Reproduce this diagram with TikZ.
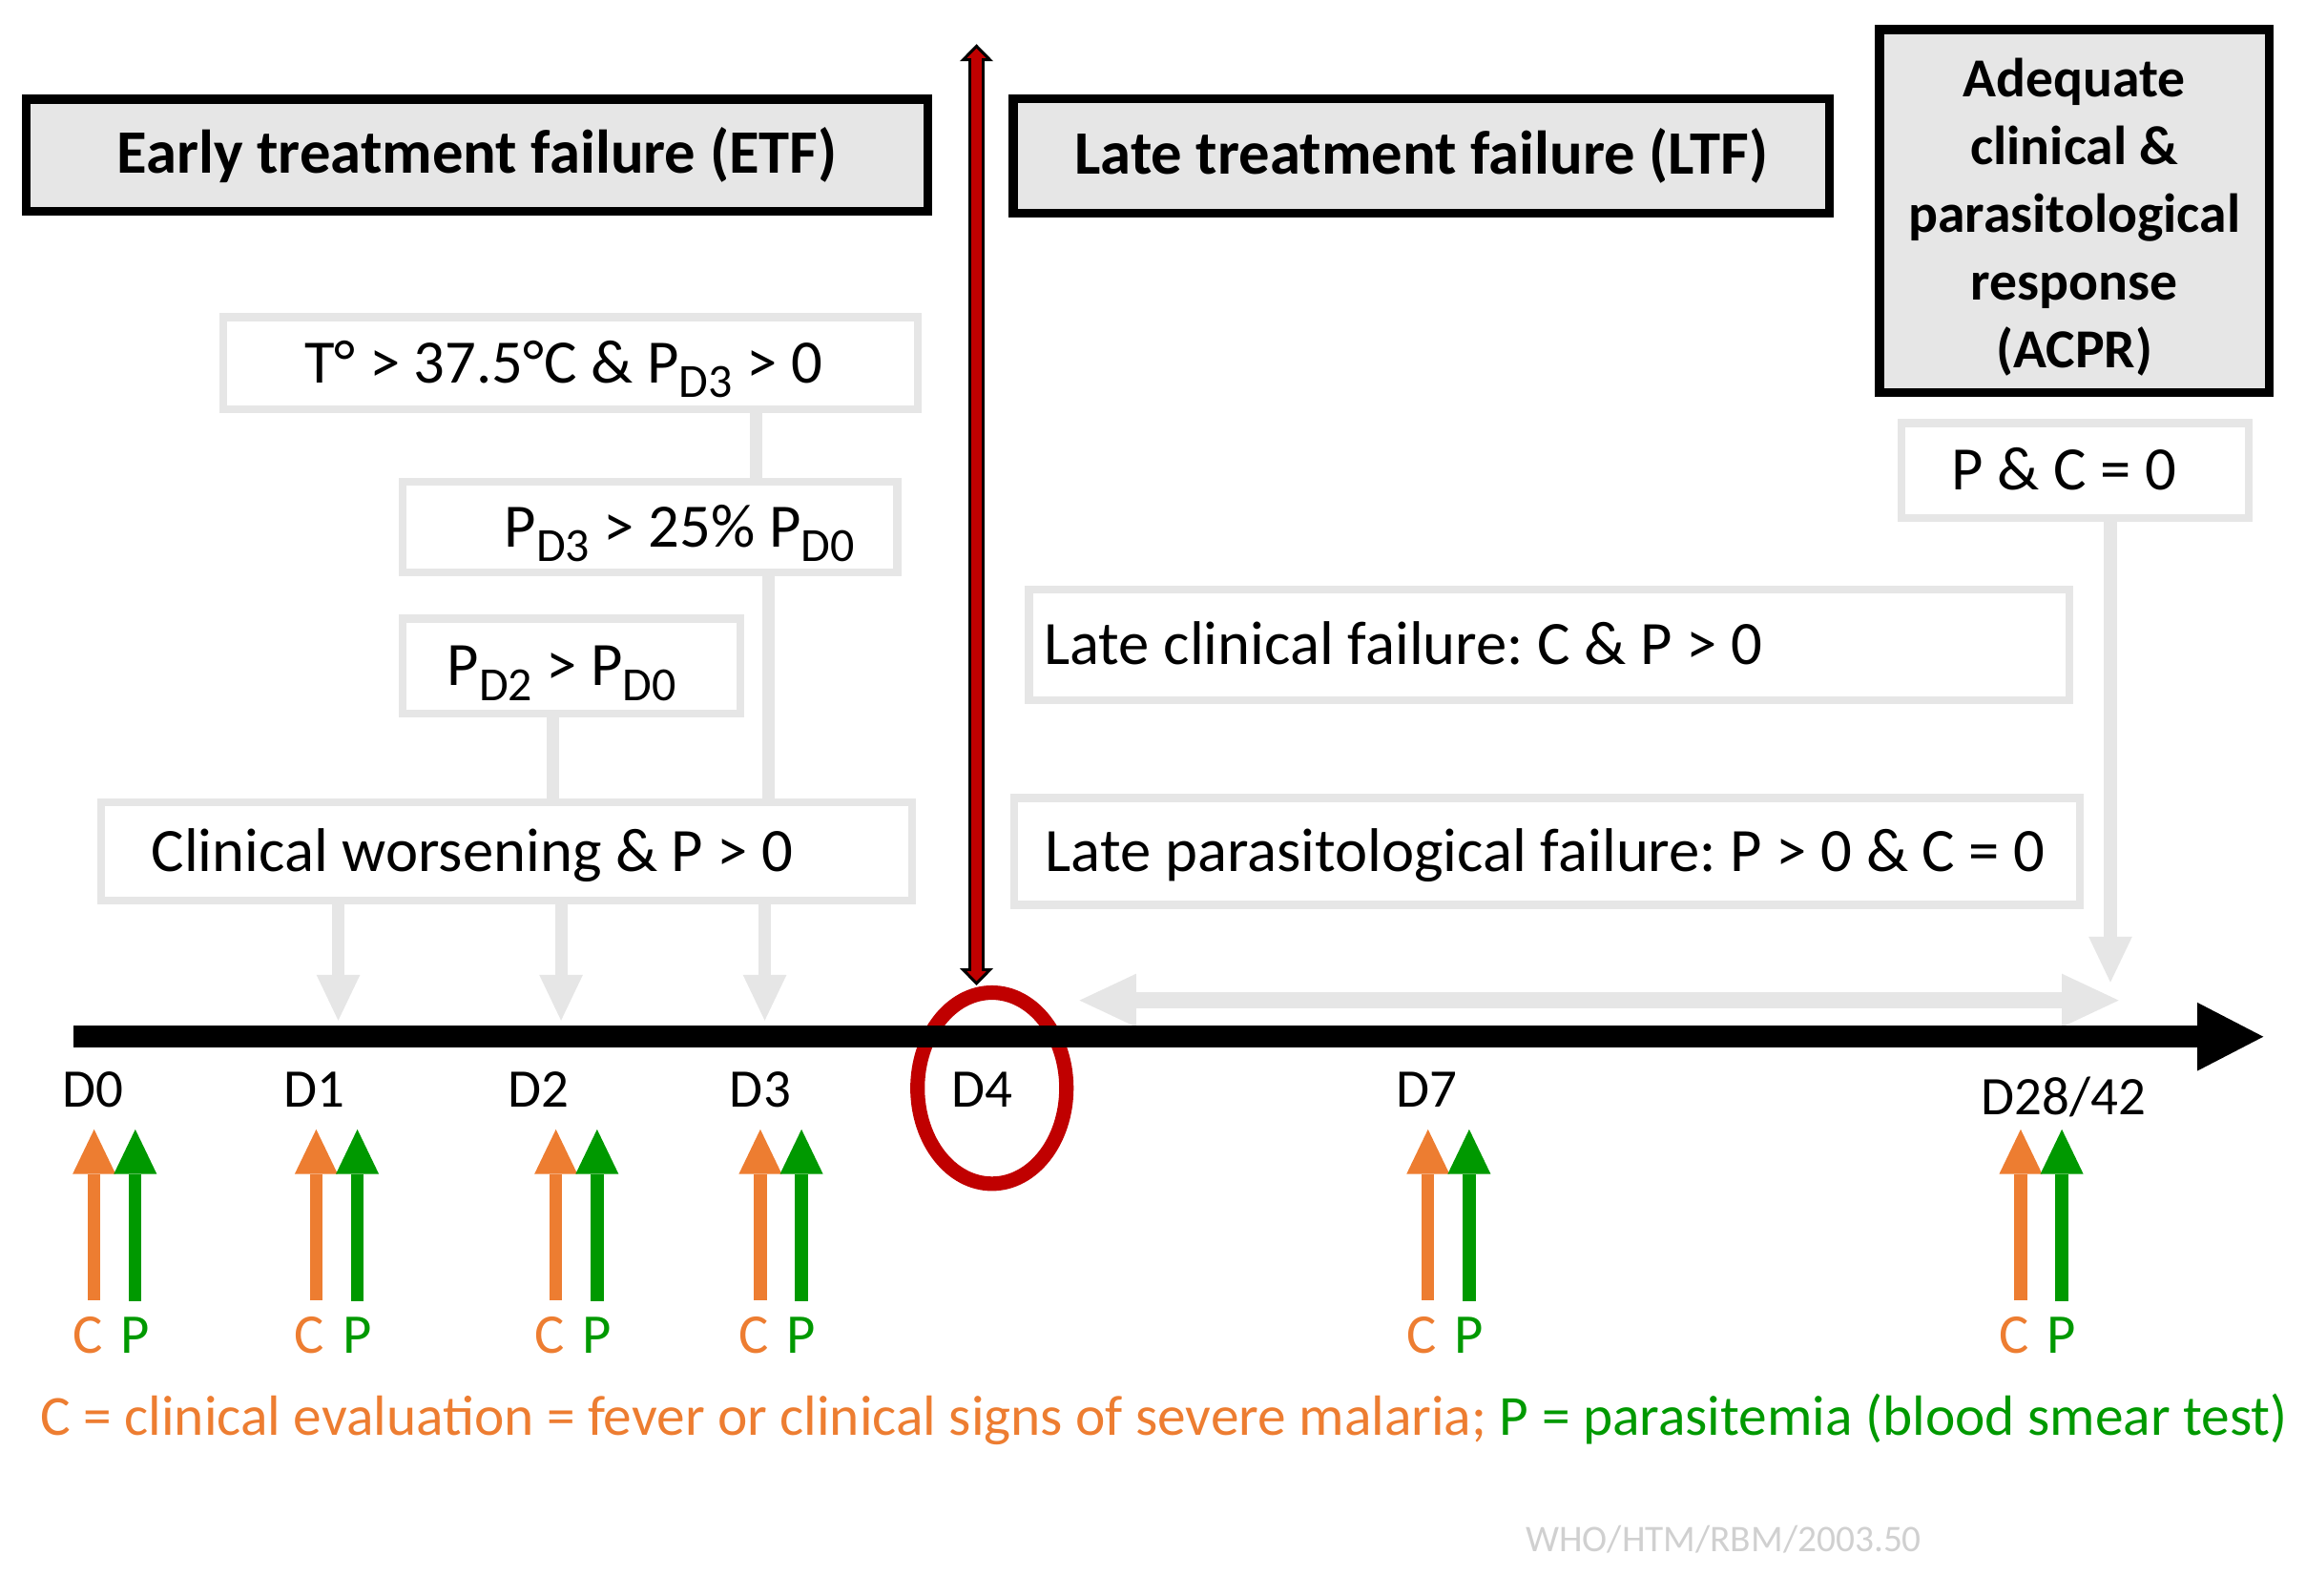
\documentclass[tikz,border=0pt]{standalone}
\usepackage{fontspec}
\setmainfont{Carlito}
\usepackage{xcolor}
\definecolor{colorFrame}{HTML}{E6E6E6}
\definecolor{colorTitle}{HTML}{E6E6E6}
\definecolor{colorClinical}{HTML}{ED7D31}
\definecolor{colorParasite}{HTML}{009900}
\definecolor{colorCut}{HTML}{C00000}
\definecolor{colorSource}{HTML}{D0D0D0}
\usepackage{tikz}
\usetikzlibrary{arrows.meta, positioning, shapes.geometric}
\frenchspacing
\newcommand{\lowsub}[1]{\raisebox{-0.24em}{\fontsize{14.2}{14}\selectfont #1}}
\newcommand{\boxline}[3]{\makebox[#1][l]{\hspace*{#2}\rule[-0.36em]{0pt}{1.36em}#3}}

\begin{document}
\begin{tikzpicture}[x=0.15415mm, y=-0.15415mm, every node/.style={inner sep=0pt},
  headline/.style={draw=black, line width=2.63pt, fill=colorTitle, align=center, font=\fontsize{18.4}{20.2}\selectfont\bfseries},
  cond/.style={draw=colorFrame, line width=2.4pt, fill=white, font=\fontsize{18.4}{22}\selectfont},
  link/.style={colorFrame, line width=3.7pt},
  dropline/.style={colorFrame, line width=3.7pt, -{Triangle[width=13pt, length=13.6pt, line width=0pt]}},
  spanline/.style={colorFrame, line width=4.9pt, {Triangle[width=15.9pt, length=16.9pt, line width=0pt]}-{Triangle[width=15.9pt, length=16.9pt, line width=0pt]}},
  cutout/.style={black, line width=5pt, {Triangle[width=10pt, length=5.1pt, line width=0pt]}-{Triangle[width=10pt, length=5.1pt, line width=0pt]}},
  cutin/.style={colorCut, line width=3.3pt, shorten <=1.29pt, shorten >=1.29pt, {Triangle[width=5.7pt, length=2.9pt, line width=0pt]}-{Triangle[width=5.7pt, length=2.9pt, line width=0pt]}},
  axis/.style={black, line width=6.4pt, -{Triangle[width=20.4pt, length=19.7pt, line width=0pt]}},
  evalarrow/.style={line width=3.8pt, -{Triangle[width=12.8pt, length=13.3pt, line width=0pt]}},
  daylabel/.style={font=\fontsize{16.2}{18}\selectfont},
  cplabel/.style={inner ysep=4.7pt, font=\fontsize{16.7}{18}\selectfont}]
\useasboundingbox (0,0) rectangle (1568,1085);

\node[headline, minimum width=268.9pt, minimum height=33.3pt] (etf) at (324.5,105.5) {Early treatment failure (ETF)};
\node[headline, minimum width=243.4pt, minimum height=34.2pt] (ltf) at (966.5,106) {Late treatment failure (LTF)};
\node[headline, minimum width=116.2pt, minimum height=108.3pt, font=\fontsize{16.4}{20.2}\selectfont\bfseries] (acpr) at (1410.5,143.5) {\rule{0pt}{15pt}Adequate\\clinical \&\\parasitological\\response\\(ACPR)};

\node[cond, minimum height=27.4pt] (fever) at (388,247) {\boxline{207.2pt}{24.2pt}{T° > 37.5°C \& P\lowsub{D3} > 0}};
\node[cond, minimum height=27.0pt] (rise3) at (442,358.5) {\boxline{147.6pt}{30.4pt}{P\lowsub{D3} > 25\% P\lowsub{D0}}};
\node[cond, minimum height=28.3pt] (rise2) at (388.5,453) {\boxline{100.7pt}{13.3pt}{P\lowsub{D2} > P\lowsub{D0}}};
\node[cond, minimum height=29.2pt] (worse) at (344.5,579) {\boxline{241.9pt}{15.0pt}{Clinical worsening \& P > 0}};
\node[cond, minimum height=33.1pt] (lcf) at (1053.5,438.5) {\boxline{310.3pt}{4.5pt}{Late clinical failure: C \& P > 0}};
\node[cond, minimum height=31.8pt] (lpf) at (1052,579) {\boxline{317.8pt}{9.3pt}{Late parasitological failure: P > 0 \& C = 0}};
\node[cond, minimum height=28.3pt] (clear) at (1411,320) {\boxline{103.7pt}{15.0pt}{P \& C = 0}};

\coordinate (feverdrop) at (514,0);
\coordinate (rise3drop) at (522.5,0);
\coordinate (rise2drop) at (376,0);
\draw[link] (fever.south -| feverdrop) -- (rise3.north -| feverdrop);
\draw[link] (rise3.south -| rise3drop) -- (worse.north -| rise3drop);
\draw[link] (rise2.south -| rise2drop) -- (worse.north -| rise2drop);

\coordinate (hit1) at (230,694);
\coordinate (hit2) at (381.5,694);
\coordinate (hit3) at (520,694);
\coordinate (hitacpr) at (1435,668);
\draw[dropline] (worse.south -| hit1) -- (hit1);
\draw[dropline] (worse.south -| hit2) -- (hit2);
\draw[dropline] (worse.south -| hit3) -- (hit3);
\draw[dropline] (clear.south -| hitacpr) -- (hitacpr);

\coordinate (late0) at (734,680.3);
\coordinate (late1) at (1440.6,680.3);
\draw[spanline] (late0) -- (late1);

\node[ellipse, draw=colorCut, line width=4.3pt, minimum width=44.4pt, minimum height=57pt] (ring) at (674.5,740) {};
\coordinate (cuttop) at (664,30);
\draw[cutout] (cuttop) -- (ring.north -| cuttop);
\draw[cutin] (cuttop) -- (ring.north -| cuttop);

\coordinate (t0) at (50,705);
\coordinate (t1) at (1539,705);
\draw[axis] (t0) -- (t1);

\foreach \x/\lbl in {63/0, 214/1, 366/2, 517/3, 668/4, 970/7}
  \node[daylabel] (d\lbl) at (\x,741) {D\lbl};
\node[daylabel] (d28) at (1403,746) {D28/42};

\foreach \x [count=\i] in {64,215,378,517,971,1374} {
  \coordinate (ctip\i) at (\x,768);
  \coordinate (ptip\i) at (\x+28,768);
  \node[cplabel, text=colorClinical] (c\i) at (\x-4.5,908) {C};
  \node[cplabel, text=colorParasite] (p\i) at (\x+28,908) {P};
  \draw[evalarrow, colorClinical] (c\i.north -| ctip\i) -- (ctip\i);
  \draw[evalarrow, colorParasite] (p\i.north -| ptip\i) -- (ptip\i);
}

\node[font=\fontsize{16.9}{18}\selectfont] (key) at (791.5,965) {\textcolor{colorClinical}{C = clinical evaluation = fever or clinical signs of severe malaria;} \textcolor{colorParasite}{P = parasitemia (blood smear test)}};
\node[font=\fontsize{11.2}{12}\selectfont, text=colorSource] (source) at (1172,1047) {WHO/HTM/RBM/2003.50};
\end{tikzpicture}
\end{document}
